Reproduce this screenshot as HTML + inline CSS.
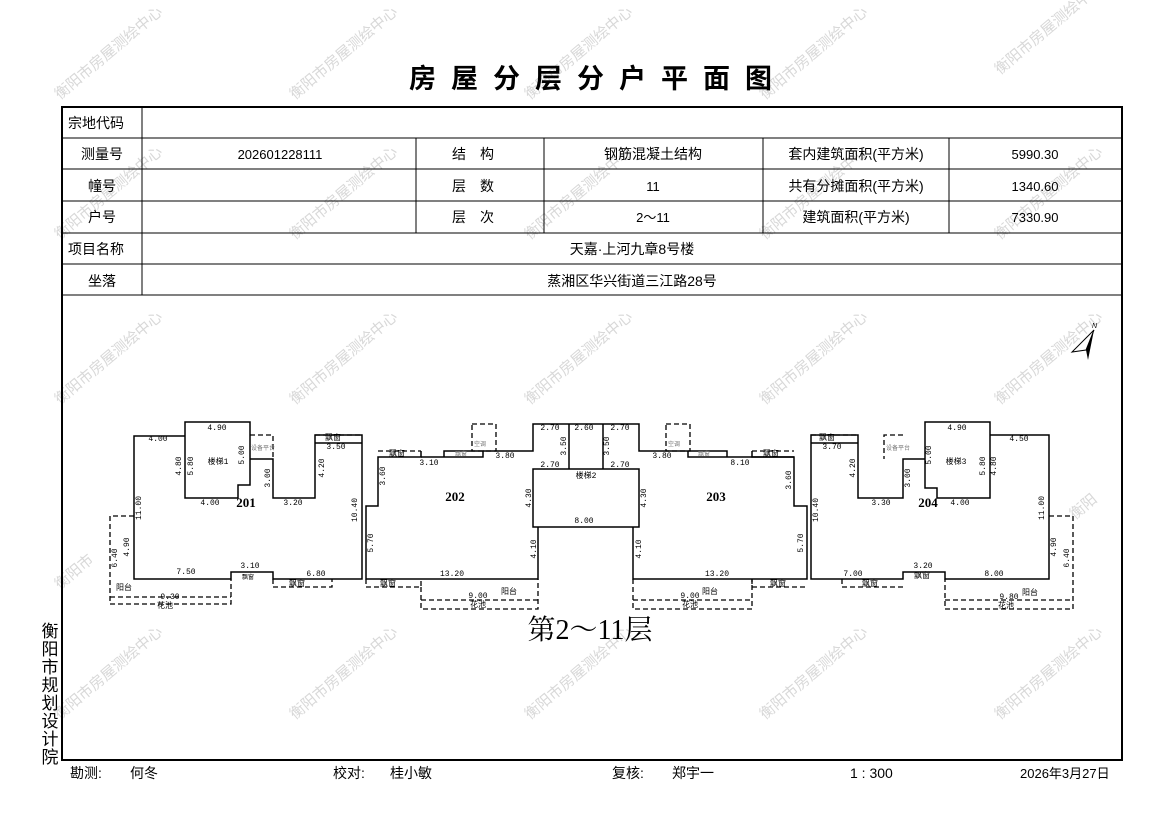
<!DOCTYPE html>
<html><head><meta charset="utf-8"><style>
html,body{margin:0;padding:0;background:#fff;}
body{width:1169px;height:827px;position:relative;overflow:hidden;font-family:"Liberation Sans","Noto Sans CJK SC",sans-serif;}
svg{position:absolute;left:0;top:0;}
</style></head><body>
<svg width="1169" height="827" viewBox="0 0 1169 827" xmlns="http://www.w3.org/2000/svg" font-family="Liberation Sans, Noto Sans CJK SC, sans-serif">
<!-- watermarks -->
<g fill="#d8d8d8" font-size="15" font-family="Noto Sans CJK SC, sans-serif">
<text transform="translate(60,100) rotate(-40)">衡阳市房屋测绘中心</text>
<text transform="translate(295,100) rotate(-40)">衡阳市房屋测绘中心</text>
<text transform="translate(530,100) rotate(-40)">衡阳市房屋测绘中心</text>
<text transform="translate(765,100) rotate(-40)">衡阳市房屋测绘中心</text>
<text transform="translate(1000,75) rotate(-40)">衡阳市房屋测绘中心</text>
<text transform="translate(60,405) rotate(-40)">衡阳市房屋测绘中心</text>
<text transform="translate(295,405) rotate(-40)">衡阳市房屋测绘中心</text>
<text transform="translate(530,405) rotate(-40)">衡阳市房屋测绘中心</text>
<text transform="translate(765,405) rotate(-40)">衡阳市房屋测绘中心</text>
<text transform="translate(1000,405) rotate(-40)">衡阳市房屋测绘中心</text>
<text transform="translate(60,240) rotate(-40)">衡阳市房屋测绘中心</text>
<text transform="translate(295,240) rotate(-40)">衡阳市房屋测绘中心</text>
<text transform="translate(530,240) rotate(-40)">衡阳市房屋测绘中心</text>
<text transform="translate(765,240) rotate(-40)">衡阳市房屋测绘中心</text>
<text transform="translate(1000,240) rotate(-40)">衡阳市房屋测绘中心</text>
<text transform="translate(60,720) rotate(-40)">衡阳市房屋测绘中心</text>
<text transform="translate(295,720) rotate(-40)">衡阳市房屋测绘中心</text>
<text transform="translate(530,720) rotate(-40)">衡阳市房屋测绘中心</text>
<text transform="translate(765,720) rotate(-40)">衡阳市房屋测绘中心</text>
<text transform="translate(1000,720) rotate(-40)">衡阳市房屋测绘中心</text>
<text transform="translate(60,590) rotate(-40)">衡阳市</text>
<text transform="translate(1075,520) rotate(-40)">衡阳</text>
</g>
<!-- title -->
<text x="598" y="88" text-anchor="middle" font-size="27" font-weight="bold" letter-spacing="15" font-family="Noto Sans CJK SC, sans-serif">房屋分层分户平面图</text>
<!-- table -->
<g stroke="#000" fill="none">
<rect x="62" y="107" width="1060" height="653" stroke-width="2"/>
<g stroke-width="1">
<line x1="62" y1="138" x2="1122" y2="138"/><line x1="62" y1="169" x2="1122" y2="169"/>
<line x1="62" y1="201" x2="1122" y2="201"/><line x1="62" y1="233" x2="1122" y2="233"/>
<line x1="62" y1="264" x2="1122" y2="264"/><line x1="62" y1="295" x2="1122" y2="295"/>
<line x1="142" y1="107" x2="142" y2="295"/>
<line x1="416" y1="138" x2="416" y2="233"/><line x1="544" y1="138" x2="544" y2="233"/>
<line x1="763" y1="138" x2="763" y2="233"/><line x1="949" y1="138" x2="949" y2="233"/>
</g></g>
<g font-size="14" fill="#000" font-family="Liberation Sans, Noto Sans CJK SC, sans-serif">
<text x="68" y="128">宗地代码</text>
<text x="102" y="159" text-anchor="middle">测量号</text>
<text x="102" y="191" text-anchor="middle">幢号</text>
<text x="102" y="222" text-anchor="middle">户号</text>
<text x="68" y="254">项目名称</text>
<text x="102" y="286" text-anchor="middle">坐落</text>
<text x="280" y="159" text-anchor="middle" font-size="13">202601228111</text>
<text x="480" y="159" text-anchor="middle" letter-spacing="14">结构</text>
<text x="480" y="191" text-anchor="middle" letter-spacing="14">层数</text>
<text x="480" y="222" text-anchor="middle" letter-spacing="14">层次</text>
<text x="653" y="159" text-anchor="middle">钢筋混凝土结构</text>
<text x="653" y="191" text-anchor="middle" font-size="13">11</text>
<text x="653" y="222" text-anchor="middle" font-size="13">2～11</text>
<text x="856" y="159" text-anchor="middle">套内建筑面积(平方米)</text>
<text x="856" y="191" text-anchor="middle">共有分摊面积(平方米)</text>
<text x="856" y="222" text-anchor="middle">建筑面积(平方米)</text>
<text x="1035" y="159" text-anchor="middle" font-size="13">5990.30</text>
<text x="1035" y="191" text-anchor="middle" font-size="13">1340.60</text>
<text x="1035" y="222" text-anchor="middle" font-size="13">7330.90</text>
<text x="632" y="254" text-anchor="middle">天嘉·上河九章8号楼</text>
<text x="632" y="286" text-anchor="middle">蒸湘区华兴街道三江路28号</text>
</g>
<!-- left vertical -->
<g font-size="17" font-family="Noto Sans CJK SC, sans-serif" text-anchor="middle">
<text x="50" y="637">衡</text><text x="50" y="655">阳</text><text x="50" y="673">市</text><text x="50" y="691">规</text><text x="50" y="709">划</text><text x="50" y="727">设</text><text x="50" y="745">计</text><text x="50" y="763">院</text>
</g>
<!-- footer -->
<g font-size="14" font-family="Liberation Sans, Noto Sans CJK SC, sans-serif">
<text x="70" y="778">勘测:</text><text x="130" y="778">何冬</text>
<text x="333" y="778">校对:</text><text x="390" y="778">桂小敏</text>
<text x="612" y="778">复核:</text><text x="672" y="778">郑宇一</text>
<text x="850" y="778">1 : 300</text><text x="1020" y="778" font-size="13">2026年3月27日</text>
</g>
<!-- north arrow -->
<g>
<polygon points="1094,330 1072,352 1086,350" fill="#fff" stroke="#000"/>
<polygon points="1094,330 1086,350 1088,360" fill="#000"/>
<text x="1092" y="328" font-size="7" font-style="italic">N</text>
</g>
<!-- plan -->
<g stroke="#000" stroke-width="1.5" fill="none">
<!-- 201 -->
<polyline points="185,436 134,436 134,579 231,579 231,572 273,572 273,579 362,579 362,435 315,435 315,498 273,498 273,459 250,459"/>
<polyline points="250,459 250,485 238,485 238,498 185,498 185,422 250,422 250,459"/>
<line x1="315" y1="443" x2="362" y2="443"/>
<!-- 202 -->
<polyline points="421,451 421,457 378,457 378,506 366,506 366,579 538,579 538,527"/>
<polyline points="421,457 444,457 444,451 483,451 483,457 444,457"/>
<polyline points="483,451 533,451 533,424 639,424 639,451 688,451"/>
<line x1="569" y1="424" x2="569" y2="469"/><line x1="603" y1="424" x2="603" y2="469"/>
<rect x="533" y="469" width="106" height="58"/>
<!-- 203 -->
<polyline points="633,527 633,579 807,579 807,506 794,506 794,457 752,457 752,451"/>
<polyline points="688,451 688,457 794,457"/><polyline points="688,451 727,451 727,457"/>
<!-- 204 -->
<polyline points="925,459 903,459 903,498 858,498 858,435 811,435 811,579 903,579 903,572 945,572 945,579 1049,579 1049,435 990,435"/>
<polyline points="925,459 925,422 990,422 990,498 937,498 937,488 925,488 925,459"/>
<line x1="811" y1="443" x2="858" y2="443"/>
</g>
<g stroke="#000" stroke-width="1.3" fill="none" stroke-dasharray="5,3">
<polyline points="250,435 273,435 273,459"/>
<line x1="315" y1="435" x2="362" y2="435"/>
<polyline points="134,516 110,516 110,604 231,604 231,579"/><line x1="110" y1="597" x2="231" y2="597"/>
<polyline points="273,579 273,587 332,587 332,579"/>
<polyline points="378,451 421,451"/><rect x="472" y="424" width="24" height="27"/>
<polyline points="366,579 366,587 421,587 421,579"/>
<polyline points="421,587 421,609 538,609 538,579"/><line x1="421" y1="600" x2="538" y2="600"/>
<rect x="666" y="424" width="24" height="27"/>
<line x1="752" y1="451" x2="794" y2="451"/>
<polyline points="752,579 752,587 807,587"/>
<polyline points="633,579 633,609 752,609 752,579"/><line x1="633" y1="600" x2="752" y2="600"/>
<line x1="811" y1="435" x2="858" y2="435"/>
<polyline points="903,435 884,435 884,459"/>
<polyline points="842,579 842,587 903,587"/>
<polyline points="1049,516 1073,516 1073,609 945,609 945,579"/><line x1="945" y1="600" x2="1073" y2="600"/>
</g>
<!-- unit labels -->
<g font-size="13" font-weight="bold" font-family="Liberation Serif, serif" text-anchor="middle">
<text x="246" y="507">201</text><text x="455" y="501">202</text><text x="716" y="501">203</text><text x="928" y="507">204</text>
</g>
<g font-size="8" font-family="Liberation Mono, Noto Sans CJK SC, monospace" text-anchor="middle" fill="#000">
<text x="217" y="430">4.90</text><text x="158" y="441">4.00</text><text x="210" y="505">4.00</text><text x="293" y="505">3.20</text>
<text x="336" y="449">3.50</text><text x="186" y="574">7.50</text><text x="250" y="568">3.10</text><text x="316" y="576">6.80</text>
<text x="170" y="599">9.30</text><text x="124" y="590">阳台</text><text x="165" y="608">花池</text>
<text x="218" y="464">楼梯1</text><text x="333" y="440">飘窗</text><text x="297" y="586">飘窗</text><text x="248" y="579" font-size="6">飘窗</text>
<text x="429" y="465">3.10</text><text x="505" y="458">3.80</text><text x="452" y="576">13.20</text><text x="478" y="598">9.00</text>
<text x="509" y="594">阳台</text><text x="478" y="607">花池</text><text x="397" y="456">飘窗</text><text x="388" y="586">飘窗</text>
<text x="550" y="430">2.70</text><text x="584" y="430">2.60</text><text x="620" y="430">2.70</text>
<text x="550" y="467">2.70</text><text x="620" y="467">2.70</text><text x="586" y="478">楼梯2</text><text x="584" y="523">8.00</text>
<text x="662" y="458">3.80</text><text x="740" y="465">8.10</text><text x="717" y="576">13.20</text><text x="690" y="598">9.00</text>
<text x="710" y="594">阳台</text><text x="690" y="607">花池</text><text x="771" y="456">飘窗</text><text x="778" y="586">飘窗</text>
<text x="832" y="449">3.70</text><text x="881" y="505">3.30</text><text x="960" y="505">4.00</text><text x="957" y="430">4.90</text>
<text x="1019" y="441">4.50</text><text x="956" y="464">楼梯3</text><text x="827" y="440">飘窗</text><text x="853" y="576">7.00</text>
<text x="923" y="568">3.20</text><text x="994" y="576">8.00</text><text x="1009" y="599">9.80</text><text x="1030" y="595">阳台</text>
<text x="1006" y="608">花池</text><text x="870" y="586">飘窗</text><text x="922" y="578">飘窗</text>
</g>
<g font-size="8" font-family="Liberation Mono, monospace" text-anchor="middle">
<text transform="translate(181,466) rotate(-90)">4.80</text><text transform="translate(193,466) rotate(-90)">5.80</text>
<text transform="translate(244,455) rotate(-90)">5.00</text><text transform="translate(270,478) rotate(-90)">3.00</text>
<text transform="translate(324,468) rotate(-90)">4.20</text><text transform="translate(141,508) rotate(-90)">11.00</text>
<text transform="translate(129,547) rotate(-90)">4.90</text><text transform="translate(117,558) rotate(-90)">6.40</text>
<text transform="translate(357,510) rotate(-90)">10.40</text><text transform="translate(385,476) rotate(-90)">3.60</text>
<text transform="translate(373,543) rotate(-90)">5.70</text><text transform="translate(531,498) rotate(-90)">4.30</text>
<text transform="translate(536,549) rotate(-90)">4.10</text><text transform="translate(566,446) rotate(-90)">3.50</text>
<text transform="translate(609,446) rotate(-90)">3.50</text><text transform="translate(646,498) rotate(-90)">4.30</text>
<text transform="translate(641,549) rotate(-90)">4.10</text><text transform="translate(791,480) rotate(-90)">3.60</text>
<text transform="translate(803,543) rotate(-90)">5.70</text><text transform="translate(818,510) rotate(-90)">10.40</text>
<text transform="translate(855,468) rotate(-90)">4.20</text><text transform="translate(910,478) rotate(-90)">3.00</text>
<text transform="translate(931,455) rotate(-90)">5.00</text><text transform="translate(985,466) rotate(-90)">5.80</text>
<text transform="translate(996,466) rotate(-90)">4.80</text><text transform="translate(1044,508) rotate(-90)">11.00</text>
<text transform="translate(1056,547) rotate(-90)">4.90</text><text transform="translate(1069,558) rotate(-90)">6.40</text>
</g>
<g font-size="6" fill="#777" font-family="Noto Sans CJK SC, sans-serif">
<text x="251" y="450">设备平台</text><text x="886" y="450">设备平台</text>
<text x="474" y="446">空调</text><text x="668" y="446">空调</text>
<text x="455" y="456">飘窗</text><text x="698" y="456">飘窗</text>
</g>
<text x="590" y="639" text-anchor="middle" font-size="28" font-family="Liberation Serif, Noto Serif CJK SC, serif">第2～11层</text>
</svg>
</body></html>
